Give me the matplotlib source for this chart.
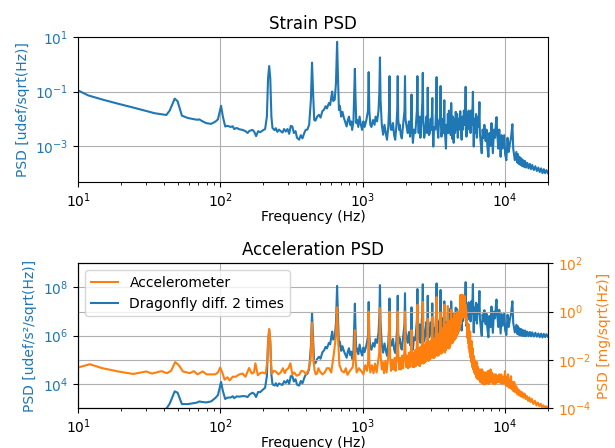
import matplotlib
matplotlib.use("Agg")
import matplotlib.pyplot as plt

# frequency bins shared by the strain and the double-differentiated dragonfly trace
strain_freq = [
    10, 11.8, 15, 19, 25, 34.5, 41.7, 44, 47.7, 50,
    53.6, 59, 66, 69, 71, 75, 79.5, 86, 92, 96,
    101, 104, 108, 112, 118, 122, 125, 130, 136, 143,
    150, 155, 160, 168, 173, 178, 184, 190, 198, 206,
    212, 216, 220, 224, 228, 232, 240, 245, 251, 258,
    265, 273, 280, 288, 296, 304, 312, 320, 328, 337,
    345, 357, 367, 377, 388, 397, 408, 420, 432, 440,
    448, 456, 465, 478, 492, 505, 520, 535, 548, 560,
    578, 590, 600, 610, 620, 635, 648, 660, 670, 680,
    690, 705, 720, 736, 750, 770, 785, 800, 815, 830,
    842, 860, 872, 880, 888, 900, 912, 930, 950, 970,
    989, 1010, 1030, 1060, 1088, 1100, 1112, 1130, 1150, 1180,
    1210, 1230, 1260, 1290, 1308, 1320, 1333, 1360, 1390, 1420,
    1450, 1480, 1510, 1528, 1540, 1553, 1575, 1600, 1630, 1660,
    1690, 1720, 1746, 1760, 1774, 1800, 1820, 1850, 1880, 1920,
    1964, 1980, 1996, 2030, 2070, 2110, 2150, 2180, 2200, 2220,
    2250, 2290, 2340, 2400, 2420, 2440, 2470, 2500, 2540, 2580,
    2620, 2640, 2660, 2700, 2750, 2800, 2830, 2845, 2860, 2880,
    2920, 2960, 3000, 3040, 3062, 3080, 3100, 3130, 3170, 3230,
    3280, 3300, 3320, 3350, 3390, 3430, 3500, 3520, 3540, 3570,
    3610, 3650, 3690, 3722, 3740, 3760, 3800, 3840, 3880, 3920,
    3960, 3990, 4030, 4070, 4110, 4150, 4180, 4220, 4260, 4300,
    4350, 4400, 4450, 4500, 4550, 4600, 4650, 4700, 4760, 4840,
    4880, 4950, 5000, 5070, 5130, 5200, 5250, 5280, 5310, 5350,
    5420, 5480, 5540, 5600, 5660, 5720, 5780, 5860, 5940, 5980,
    6020, 6080, 6150, 6250, 6330, 6420, 6500, 6560, 6600, 6650,
    6720, 6850, 6950, 7050, 7150, 7300, 7400, 7500, 7630, 7750,
    7900, 8020, 8100, 8200, 8350, 8500, 8600, 8700, 8800, 8950,
    9100, 9300, 9450, 9600, 9700, 9850, 10000, 10200, 10400, 10600,
    10800, 11000, 11250, 11400, 11700, 12000, 12150, 12300, 12450, 12600,
    12800, 13000, 13200, 13400, 13600, 13800, 14000, 14300, 14600, 14900,
    15200, 15500, 15900, 16300, 16700, 17100, 17500, 17900, 18300, 18700,
    19100, 19500, 20000,
]

strain_psd = [
    0.11, 0.072, 0.05, 0.036, 0.025, 0.016, 0.0138, 0.02, 0.055, 0.044,
    0.013, 0.0107, 0.0095, 0.0092, 0.0095, 0.008, 0.0069, 0.0065, 0.0078, 0.0095,
    0.030, 0.012, 0.0052, 0.0055, 0.005, 0.0053, 0.0042, 0.0046, 0.0041, 0.0039,
    0.0035, 0.0030, 0.0036, 0.0039, 0.0033, 0.0023, 0.0035, 0.0032, 0.0037, 0.0042,
    0.012, 0.3, 0.87, 0.3, 0.012, 0.0046, 0.0038, 0.0045, 0.0033, 0.0040,
    0.0035, 0.0031, 0.0042, 0.0034, 0.0042, 0.0028, 0.0055, 0.0052, 0.0030, 0.0035,
    0.0020, 0.0017, 0.0025, 0.0019, 0.0030, 0.0039, 0.0040, 0.006, 0.05, 1.16,
    0.08, 0.009, 0.0085, 0.012, 0.014, 0.011, 0.019, 0.022, 0.029, 0.024,
    0.038, 0.032, 0.06, 0.10, 0.045, 0.05, 0.2, 6.7, 0.3, 0.021,
    0.03, 0.012, 0.018, 0.011, 0.008, 0.0052, 0.009, 0.012, 0.006, 0.008,
    0.0039, 0.008, 0.1, 0.69, 0.08, 0.0069, 0.009, 0.005, 0.012, 0.006,
    0.0039, 0.008, 0.005, 0.009, 0.02, 0.52, 0.02, 0.006, 0.005, 0.009,
    0.006, 0.012, 0.008, 0.02, 0.1, 1.8, 0.05, 0.006, 0.0026, 0.006,
    0.003, 0.0017, 0.005, 0.02, 0.37, 0.01, 0.004, 0.0039, 0.007, 0.0025,
    0.0017, 0.005, 0.02, 0.37, 0.01, 0.0039, 0.006, 0.0025, 0.0019, 0.006,
    0.02, 0.37, 0.01, 0.0052, 0.003, 0.008, 0.0022, 0.01, 0.078, 0.005,
    0.0013, 0.004, 0.003, 0.02, 0.37, 0.01, 0.003, 0.012, 0.002, 0.008,
    0.04, 0.49, 0.01, 0.002, 0.0039, 0.012, 0.003, 0.02, 0.14, 0.008,
    0.0025, 0.003, 0.01, 0.004, 0.015, 0.058, 0.004, 0.00095, 0.005, 0.004,
    0.03, 0.34, 0.01, 0.0039, 0.002, 0.008, 0.012, 0.16, 0.006, 0.0022,
    0.004, 0.01, 0.003, 0.015, 0.048, 0.004, 0.002, 0.0008, 0.006, 0.003,
    0.015, 0.003, 0.02, 0.004, 0.012, 0.0025, 0.038, 0.006, 0.0018, 0.012,
    0.0013, 0.01, 0.003, 0.018, 0.004, 0.015, 0.002, 0.01, 0.004, 0.019,
    0.005, 0.0017, 0.012, 0.004, 0.02, 0.006, 0.03, 0.15, 0.008, 0.0022,
    0.015, 0.004, 0.02, 0.005, 0.012, 0.003, 0.02, 0.006, 0.098, 0.005,
    0.00095, 0.01, 0.003, 0.015, 0.002, 0.012, 0.005, 0.015, 0.041, 0.003,
    0.0015, 0.00054, 0.004, 0.002, 0.006, 0.0015, 0.004, 0.001, 0.0004, 0.003,
    0.001, 0.0069, 0.002, 0.00054, 0.004, 0.002, 0.006, 0.0115, 0.003, 0.0008,
    0.004, 0.0004, 0.0025, 0.0008, 0.0013, 0.0025, 0.0005, 0.0003, 0.002, 0.0006,
    0.0012, 0.002, 0.0063, 0.0008, 0.0003, 0.0006, 0.00025, 0.0005, 0.00022, 0.0004,
    0.0002, 0.00035, 0.00018, 0.0003, 0.00017, 0.00028, 0.00016, 0.00024, 0.00015, 0.00022,
    0.00014, 0.0002, 0.00013, 0.00018, 0.00012, 0.00016, 0.00011, 0.00015, 0.0001, 0.00014,
    0.0001, 0.00013, 0.0001,
]

# dragonfly trace differentiated twice (udef/s^2/sqrt(Hz)), same bins as strain
dragonfly_psd = [
    434, 396, 444, 513, 617, 752, 948, 1530, 4940, 4340,
    1470, 1470, 1630, 1730, 1890, 1780, 1720, 1900, 2610, 3460,
    12100, 5120, 2390, 2720, 2750, 3110, 2590, 3070, 2990, 3150,
    3110, 2850, 3640, 4350, 3900, 2880, 4680, 4560, 5730, 7040,
    21300, 5.53e5, 1.66e6, 5.94e5, 24600, 9780, 8640, 10700, 8210, 10500,
    9700, 9120, 13000, 11100, 14500, 10200, 21100, 21000, 12700, 15700,
    9400, 8560, 13300, 10700, 17800, 24300, 26300, 41800, 3.68e5, 8.87e6,
    6.34e5, 73900, 72600, 1.08e5, 1.34e5, 1.11e5, 2.03e5, 2.49e5, 3.44e5, 2.97e5,
    5.01e5, 4.4e5, 8.53e5, 1.47e6, 6.83e5, 7.96e5, 3.32e6, 1.15e8, 5.32e6, 3.83e5,
    5.64e5, 2.35e5, 3.68e5, 2.35e5, 1.78e5, 1.22e5, 2.19e5, 3.03e5, 1.57e5, 2.18e5,
    1.09e5, 2.34e5, 3e6, 2.11e7, 2.49e6, 2.21e5, 2.96e5, 1.71e5, 4.28e5, 2.23e5,
    1.51e5, 3.22e5, 2.09e5, 3.99e5, 9.35e5, 2.48e7, 9.76e5, 3.02e5, 2.61e5, 4.95e5,
    3.47e5, 7.17e5, 5.01e5, 1.31e6, 6.75e6, 1.24e8, 3.51e6, 4.38e5, 1.98e5, 4.78e5,
    2.49e5, 1.47e5, 4.5e5, 1.84e6, 3.46e7, 9.52e5, 3.92e5, 3.94e5, 7.34e5, 2.72e5,
    1.92e5, 5.84e5, 2.41e6, 4.53e7, 1.24e6, 4.99e5, 7.85e5, 3.38e5, 2.65e5, 8.73e5,
    3.05e6, 5.73e7, 1.57e6, 8.46e5, 5.08e5, 1.41e6, 4.02e5, 1.88e6, 1.49e7, 9.73e5,
    2.6e5, 8.28e5, 6.49e5, 4.55e6, 8.55e7, 2.35e6, 7.23e5, 2.96e6, 5.09e5, 2.1e6,
    1.08e7, 1.35e8, 2.79e6, 5.76e5, 1.16e6, 3.71e6, 9.49e5, 6.39e6, 4.52e7, 2.62e6,
    8.42e5, 1.04e6, 3.55e6, 1.46e6, 5.55e6, 2.17e7, 1.52e6, 3.67e5, 1.98e6, 1.65e6,
    1.27e7, 1.46e8, 4.35e6, 1.73e6, 9.07e5, 3.72e6, 5.8e6, 7.83e7, 2.97e6, 1.11e6,
    2.06e6, 5.26e6, 1.61e6, 8.2e6, 2.65e7, 2.23e6, 1.14e6, 4.66e5, 3.57e6, 1.82e6,
    9.29e6, 1.89e6, 1.28e7, 2.62e6, 8e6, 1.7e6, 2.62e7, 4.22e6, 1.29e6, 8.76e6,
    9.71e5, 7.64e6, 2.35e6, 1.44e7, 3.27e6, 1.25e7, 1.71e6, 8.72e6, 3.58e6, 1.76e7,
    4.7e6, 1.64e6, 1.18e7, 4.06e6, 2.08e7, 6.41e6, 3.26e7, 1.65e8, 8.9e6, 2.49e6,
    1.74e7, 4.74e6, 2.42e7, 6.19e6, 1.52e7, 3.88e6, 2.64e7, 8.14e6, 1.37e8, 7.06e6,
    1.36e6, 1.46e7, 4.48e6, 2.31e7, 3.16e6, 1.95e7, 8.34e6, 2.55e7, 7.05e7, 5.24e6,
    2.67e6, 1e6, 7.63e6, 3.92e6, 1.14e7, 2.97e6, 8.1e6, 2.08e6, 8.6e5, 6.6e6,
    2.27e6, 1.61e7, 4.75e6, 1.31e6, 1.0e7, 5.2e6, 1.6e7, 3.13e7, 8.3e6, 2.29e6,
    1.18e7, 1.23e6, 7.8e6, 2.57e6, 4.26e6, 8.4e6, 1.73e6, 1.07e6, 7.4e6, 2.3e6,
    4.75e6, 8.1e6, 2.66e7, 3.45e6, 1.36e6, 2.81e6, 1.2e6, 2.44e6, 1.09e6, 2.02e6,
    1.04e6, 1.86e6, 9.8e5, 1.67e6, 9.7e5, 1.63e6, 9.5e5, 1.47e6, 9.5e5, 1.43e6,
    9.4e5, 1.38e6, 9.2e5, 1.32e6, 9.1e5, 1.24e6, 8.7e5, 1.22e6, 8.4e5, 1.19e6,
    8.7e5, 1.15e6, 9.05e5,
]

accel_freq = [
    10, 12.1, 14.6, 19.1, 24.4, 30.2, 33, 38.5, 42, 45,
    48.1, 51, 54.5, 61, 65, 69, 75, 80, 92, 96,
    99.6, 103, 107, 112, 116, 122, 128, 136, 143, 150,
    159, 166, 172, 176, 183, 190, 197, 208, 214, 217,
    220, 223, 227, 230, 237, 245, 255, 265, 275, 283,
    290, 300, 310, 320, 330, 343, 357, 370, 385, 400,
    415, 430, 440, 450, 458, 467, 477, 488, 500, 520,
    540, 560, 580, 600, 625, 648, 660, 672, 685, 710,
    740, 760, 780, 800, 820, 850, 870, 880, 890, 905,
    940, 980,
    1010, 1040, 1070, 1090, 1100, 1112, 1130, 1160, 1190, 1220,
    1250, 1280, 1305, 1320, 1335, 1360, 1385, 1410, 1440, 1470,
    1500, 1525, 1540, 1555, 1580, 1610, 1640, 1670, 1700, 1725,
    1745, 1760, 1775, 1800, 1830, 1860, 1890, 1920, 1950, 1968,
    1980, 1995, 2020, 2050, 2080, 2110, 2140, 2170, 2190, 2200,
    2215, 2240, 2270, 2300, 2330, 2360, 2390, 2405, 2420, 2435,
    2460, 2490, 2520, 2550, 2580, 2610, 2625, 2640, 2655, 2680,
    2710, 2740, 2770, 2800, 2830, 2848, 2860, 2875, 2900, 2930,
    2960, 2990, 3020, 3050, 3068, 3080, 3095, 3120, 3150, 3180,
    3210, 3240, 3270, 3288, 3300, 3315, 3340, 3370, 3400, 3430,
    3460, 3490, 3508, 3520, 3535, 3560, 3590, 3620, 3650, 3680,
    3710, 3728, 3740, 3755, 3780, 3810, 3840, 3870, 3900, 3930,
    3948, 3960, 3975, 4000, 4030, 4060, 4090, 4120, 4150, 4168,
    4180, 4195, 4220, 4250, 4280, 4310, 4340, 4370, 4388, 4400,
    4420, 4450, 4480, 4510, 4540, 4570, 4600, 4620, 4640, 4670,
    4700, 4730, 4760, 4790, 4820, 4840, 4860, 4880, 4910, 4950,
    4980, 5010, 5040, 5060, 5090, 5120, 5150, 5180, 5200, 5230,
    5260, 5290, 5330, 5360, 5400, 5430, 5460, 5500, 5530, 5560,
    5600, 5640, 5680, 5720, 5750, 5790, 5830, 5880, 5930, 5970,
    6000, 6050, 6100, 6170, 6250, 6300, 6350, 6400, 6450, 6520,
    6600, 6680, 6750, 6820, 6900, 6950, 7000, 7070, 7140, 7220,
    7300, 7380, 7450, 7520, 7600, 7680, 7750, 7820, 7900, 7980,
    8050, 8130, 8200, 8300, 8400, 8500, 8600, 8700, 8800, 8950,
    9100, 9250, 9400, 9550, 9700, 9850, 9980, 10100, 10200, 10350,
    10500, 10650, 10800, 10900, 11000, 11150, 11300, 11450, 11600, 11800,
    12000, 12200, 12400, 12600, 12800, 13000, 13200, 13450, 13700, 13950,
    14200, 14500, 14800, 15100, 15400, 15800, 16200, 16600, 17000, 17400,
    17800, 18200, 18600, 19000, 19400, 19700, 20000,
]

accel_psd = [
    0.0048, 0.0066, 0.0046, 0.0033, 0.0026, 0.0033, 0.0027, 0.0034, 0.0028, 0.0035,
    0.0081, 0.006, 0.0033, 0.0028, 0.0034, 0.0025, 0.0033, 0.0025, 0.0025, 0.003,
    0.0048, 0.003, 0.0015, 0.0019, 0.0014, 0.002, 0.002, 0.0025, 0.0027, 0.002,
    0.0046, 0.0027, 0.003, 0.0072, 0.0023, 0.0028, 0.003, 0.0027, 0.01, 0.08,
    0.19, 0.08, 0.006, 0.0027, 0.0035, 0.0033, 0.0025, 0.003, 0.0045, 0.0028,
    0.0038, 0.0045, 0.0072, 0.0025, 0.003, 0.0022, 0.0024, 0.0035, 0.0033, 0.0025,
    0.0038, 0.01, 0.35, 0.01, 0.0038, 0.0025, 0.0027, 0.0045, 0.0033, 0.0025,
    0.003, 0.0045, 0.0045, 0.003, 0.016, 0.1, 1.5, 0.06, 0.0062, 0.0035,
    0.003, 0.0045, 0.0024, 0.003, 0.0038, 0.005, 0.02, 0.17, 0.01, 0.003,
    0.0045, 0.0033,
    0.0025, 0.006, 0.0035, 0.008, 1.0, 0.008, 0.003, 0.006, 0.0028, 0.007,
    0.003, 0.008, 0.02, 1.4, 0.015, 0.004, 0.008, 0.0028, 0.009, 0.003,
    0.01, 0.02, 1.0, 0.015, 0.0035, 0.01, 0.004, 0.012, 0.0035, 0.012,
    0.03, 1.0, 0.02, 0.004, 0.012, 0.004, 0.015, 0.0045, 0.015, 0.04,
    1.0, 0.02, 0.005, 0.015, 0.0045, 0.02, 0.005, 0.02, 0.04, 0.17,
    0.015, 0.005, 0.02, 0.005, 0.025, 0.0055, 0.03, 0.08, 1.9, 0.04,
    0.006, 0.03, 0.0055, 0.035, 0.007, 0.04, 0.1, 2.5, 0.05, 0.007,
    0.04, 0.008, 0.05, 0.009, 0.06, 0.1, 0.5, 0.04, 0.009, 0.05,
    0.01, 0.06, 0.012, 0.08, 0.15, 0.6, 0.05, 0.012, 0.07, 0.012,
    0.08, 0.015, 0.2, 0.5, 4.0, 0.3, 0.015, 0.1, 0.015, 0.12,
    0.018, 0.15, 0.3, 0.9, 0.1, 0.018, 0.15, 0.02, 0.2, 0.025,
    0.3, 0.5, 1.9, 0.2, 0.02, 0.2, 0.025, 0.3, 0.03, 0.4,
    0.5, 1.7, 0.2, 0.03, 0.3, 0.03, 0.4, 0.04, 0.5, 0.6,
    1.2, 0.3, 0.05, 0.4, 0.05, 0.5, 0.06, 0.5, 0.6, 0.8,
    0.3, 0.07, 0.6, 0.08, 0.7, 0.1, 0.8, 1.0, 0.3, 0.12,
    0.9, 0.15, 1.0, 0.2, 1.5, 4.8, 0.8, 0.3, 1.5, 4.9,
    0.5, 2.0, 0.6, 4.8, 0.8, 2.5, 0.6, 2.0, 4.3, 0.8,
    2.0, 0.5, 1.2, 0.3, 0.54, 0.08, 0.3, 0.05, 0.3, 0.03,
    0.15, 0.02, 0.15, 0.012, 0.06, 0.008, 0.06, 0.005, 0.03, 0.004,
    0.015, 0.003, 0.01, 0.0025, 0.008, 0.0018, 0.008, 0.0016, 0.005, 0.0015,
    0.004, 0.0012, 0.004, 0.0011, 0.004, 0.0011, 0.003, 0.00095, 0.003, 0.001,
    0.003, 0.001, 0.003, 0.0012, 0.0035, 0.001, 0.003, 0.0011, 0.004, 0.0012,
    0.003, 0.0011, 0.0025, 0.001, 0.0025, 0.001, 0.0025, 0.0011, 0.0022, 0.0012,
    0.0025, 0.0011, 0.0025, 0.001, 0.002, 0.0011, 0.0034, 0.0009, 0.002, 0.0008,
    0.0025, 0.0007, 0.0015, 0.0007, 0.0021, 0.0006, 0.0012, 0.0005, 0.0012, 0.00045,
    0.0008, 0.00037, 0.0006, 0.00033, 0.0005, 0.0003, 0.00045, 0.00027, 0.0004, 0.00024,
    0.00032, 0.0002, 0.00028, 0.00018, 0.00024, 0.00015, 0.0002, 0.00013, 0.00017, 0.00012,
    0.00015, 0.00011, 0.00013, 0.0001, 0.00012, 0.0001, 0.00011,
]

BLUE = "tab:blue"
ORANGE = "tab:orange"


def plot_strain(ax):
    ax.loglog(strain_freq, strain_psd, color=BLUE)
    ax.set_xlim(10, 2e4)
    ax.set_ylim(4.7e-5, 10)
    ax.set_title("Strain PSD")
    ax.set_xlabel("Frequency (Hz)", labelpad=0)
    ax.set_ylabel("PSD [udef/sqrt(Hz)]", color=BLUE)
    ax.tick_params(axis="y", labelcolor=BLUE)
    ax.grid(True)


def plot_acceleration(ax):
    line_df, = ax.loglog(strain_freq, dragonfly_psd, color=BLUE,
                         label="Dragonfly diff. 2 times")
    ax.set_xlim(10, 2e4)
    ax.set_ylim(1e3, 1e9)
    ax.set_title("Acceleration PSD")
    ax.set_xlabel("Frequency (Hz)", labelpad=0)
    ax.set_ylabel("PSD [udef/s²/sqrt(Hz)]", color=BLUE)
    ax.tick_params(axis="y", labelcolor=BLUE)
    ax.grid(True)

    ax2 = ax.twinx()
    line_acc, = ax2.loglog(accel_freq, accel_psd, color=ORANGE, label="Accelerometer")
    ax2.set_ylim(1e-4, 1e2)
    ax2.set_ylabel("PSD [mg/sqrt(Hz)]", color=ORANGE)
    ax2.tick_params(axis="y", labelcolor=ORANGE)
    ax2.grid(True)
    ax2.legend(handles=[line_acc, line_df], loc="upper left")


def main():
    fig, (ax_top, ax_bot) = plt.subplots(2, 1, figsize=(6.15, 4.48), dpi=100)
    fig.subplots_adjust(left=0.127, right=0.891, top=0.917, bottom=0.089, hspace=0.56)
    plot_strain(ax_top)
    plot_acceleration(ax_bot)
    fig.savefig("out.png", dpi=100)
    plt.close(fig)


if __name__ == "__main__":
    main()
